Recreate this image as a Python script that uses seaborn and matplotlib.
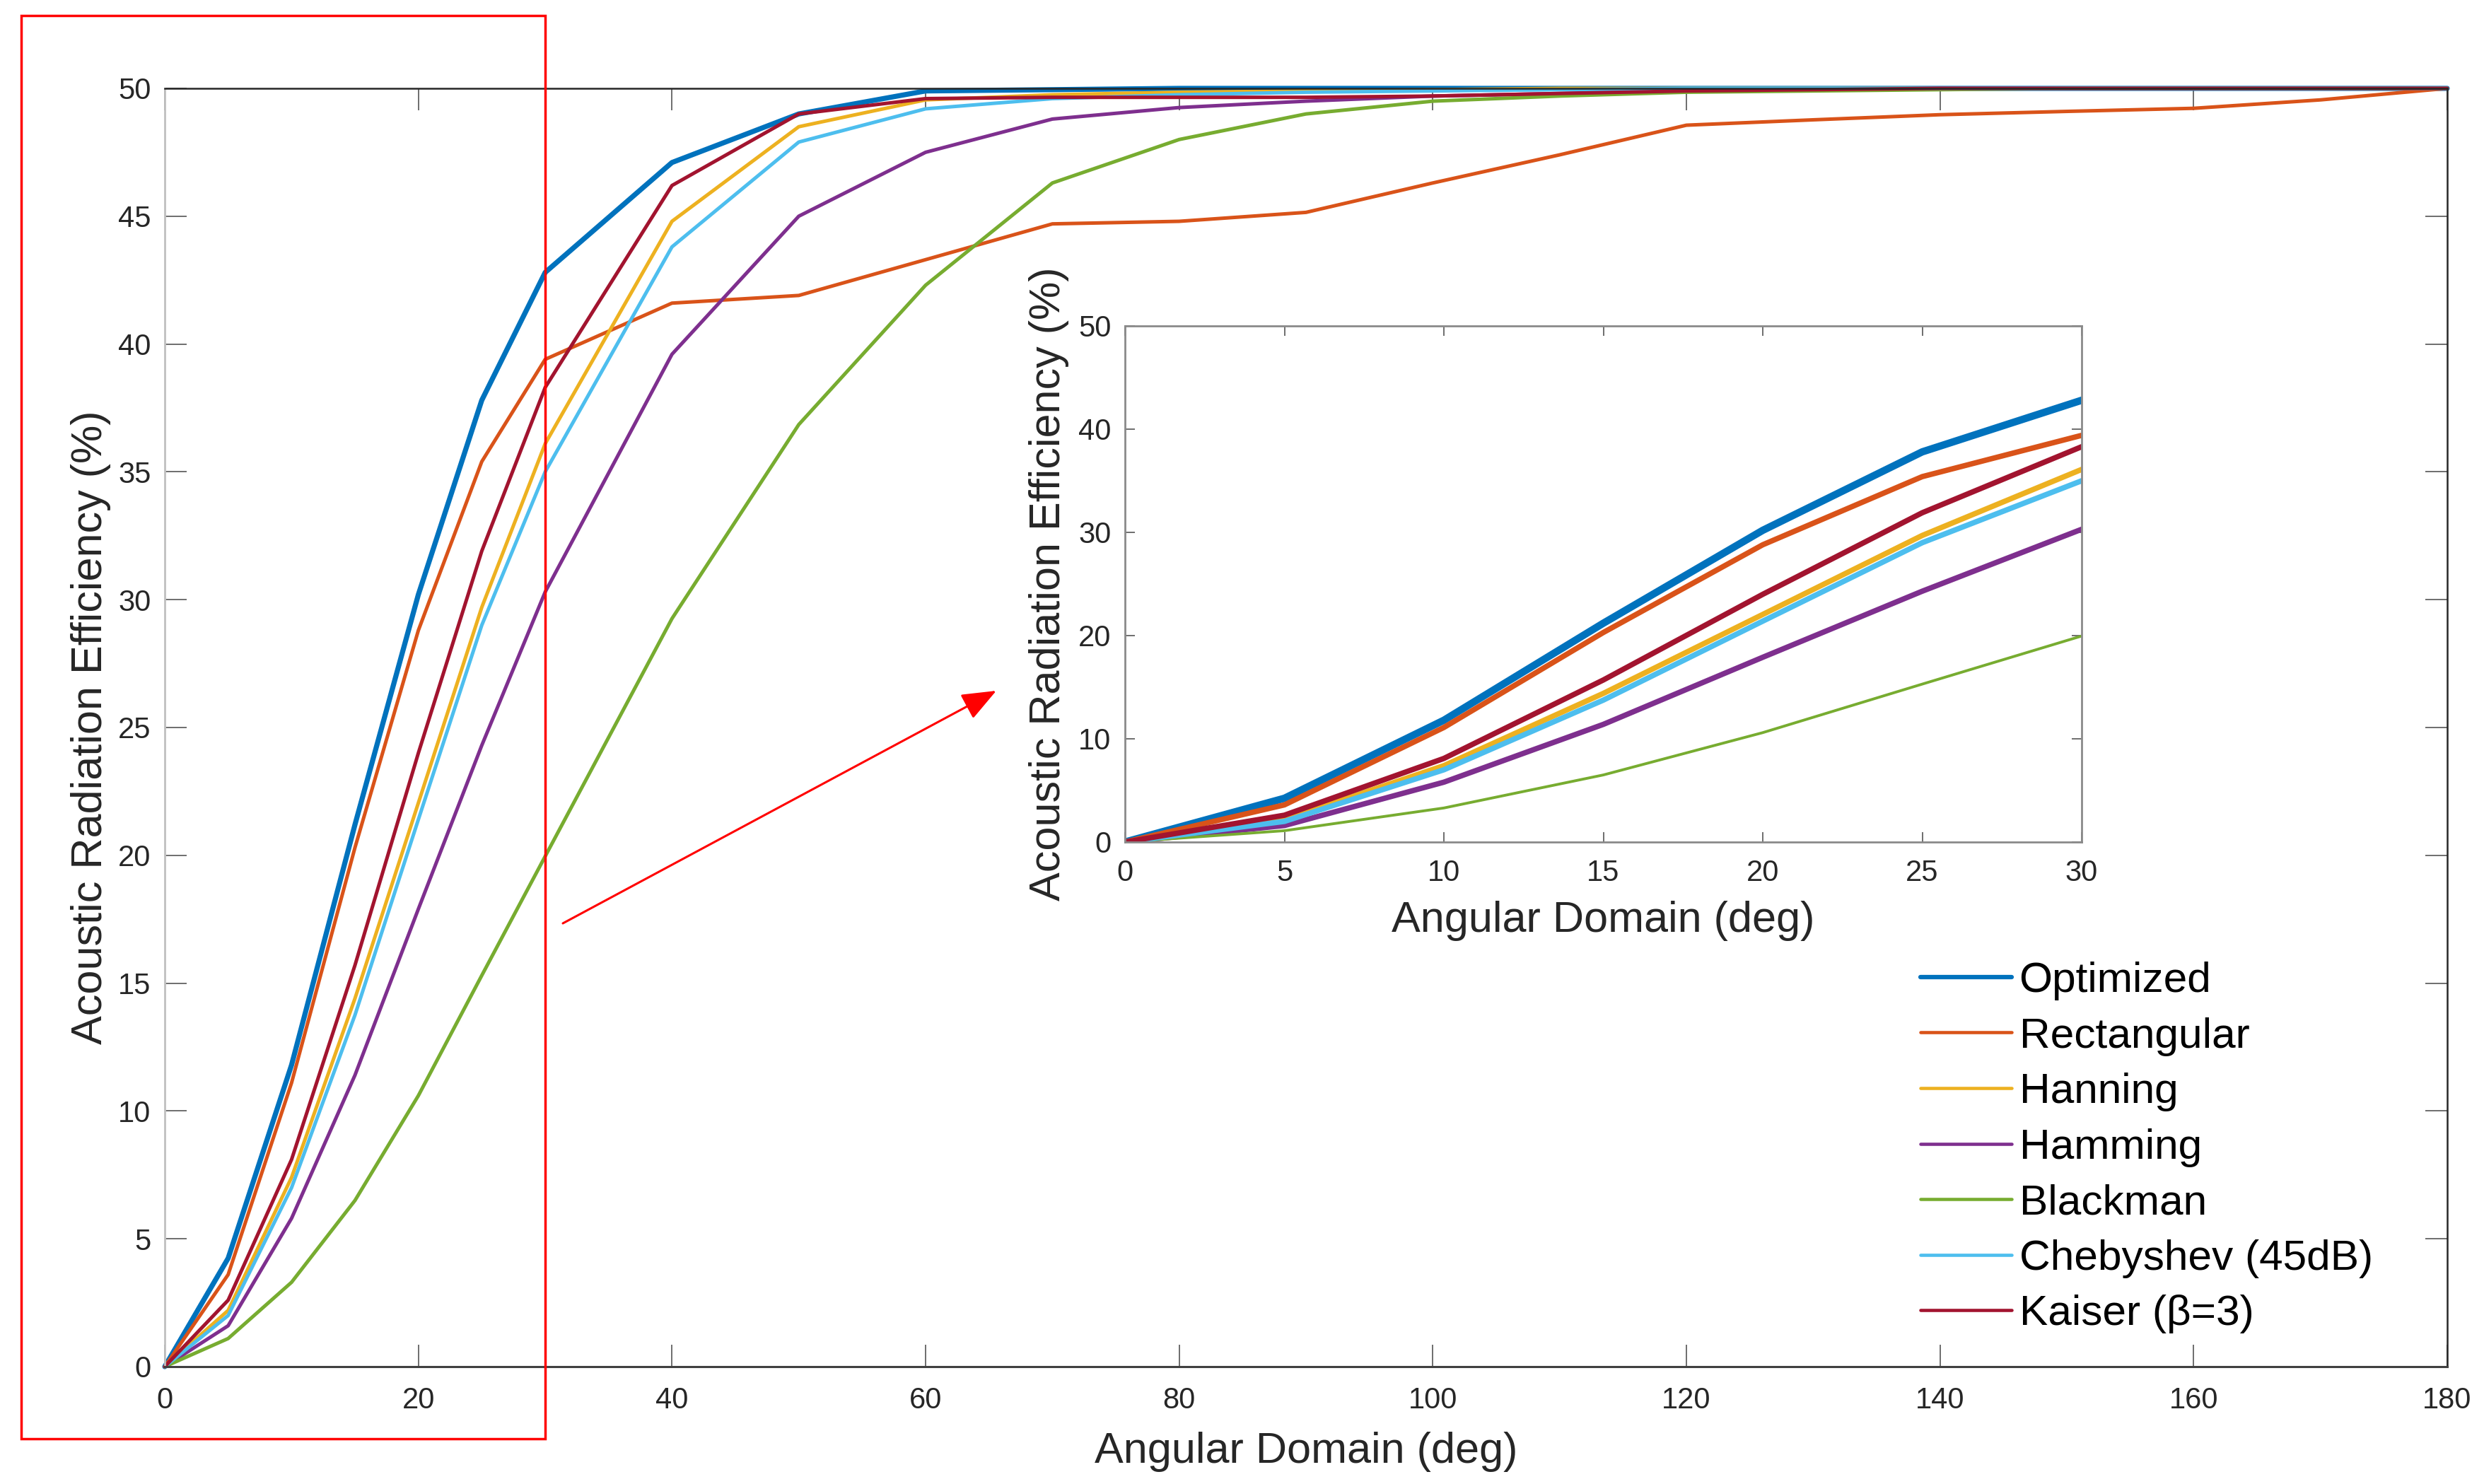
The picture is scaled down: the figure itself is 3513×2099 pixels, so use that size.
import numpy as np
import pandas as pd
import matplotlib
matplotlib.use("Agg")
import matplotlib.pyplot as plt
import seaborn as sns
from matplotlib.patches import Rectangle, FancyArrowPatch

# ---------------- data ----------------
angle = [0, 5, 10, 15, 20, 25, 30, 40, 50, 60, 70, 80, 90, 100, 110, 120, 130, 140, 150, 160, 170, 180]

optimized = [0, 4.24, 11.8, 21.2, 30.2, 37.8, 42.8, 47.1, 49.0, 49.9, 49.95, 50, 50, 50, 50, 50, 50, 50, 50, 50, 50, 50]
rectangular = [0, 3.6, 11.1, 20.3, 28.8, 35.4, 39.4, 41.6, 41.9, 43.3, 44.7, 44.8, 45.15, 46.3, 47.4, 48.56, 48.77, 48.97, 49.1, 49.22, 49.55, 50.0]
hanning = [0, 2.2, 7.4, 14.4, 22.05, 29.7, 36.1, 44.8, 48.5, 49.55, 49.75, 49.85, 49.9, 49.95, 50, 50, 50, 50, 50, 50, 50, 50]
hamming = [0, 1.6, 5.8, 11.4, 17.9, 24.3, 30.3, 39.6, 45.0, 47.5, 48.8, 49.25, 49.5, 49.7, 49.8, 49.9, 49.95, 50, 50, 50, 50, 50]
blackman = [0, 1.1, 3.3, 6.5, 10.6, 15.3, 19.96, 29.26, 36.85, 42.3, 46.3, 48.0, 49.0, 49.5, 49.7, 49.85, 49.9, 49.95, 50, 50, 50, 50]
chebyshev = [0, 2.0, 7.0, 13.75, 21.4, 29.0, 35.0, 43.8, 47.9, 49.2, 49.6, 49.75, 49.85, 49.9, 49.95, 50, 50, 50, 50, 50, 50, 50]
kaiser = [0, 2.6, 8.1, 15.7, 24.0, 31.9, 38.3, 46.2, 49.0, 49.6, 49.65, 49.65, 49.65, 49.7, 49.8, 49.9, 49.95, 50, 50, 50, 50, 50]

series_names = ["Optimized", "Rectangular", "Hanning", "Hamming", "Blackman",
                "Chebyshev (45dB)", "Kaiser (β=3)"]
series_values = [optimized, rectangular, hanning, hamming, blackman, chebyshev, kaiser]
series_colors = ["#0072BD", "#D95319", "#EDB120", "#7E2F8E", "#77AC30", "#4DBEEE", "#A2142F"]

main_xticks = [0, 20, 40, 60, 80, 100, 120, 140, 160, 180]
main_yticks = [0, 5, 10, 15, 20, 25, 30, 35, 40, 45, 50]
inset_xticks = [0, 5, 10, 15, 20, 25, 30]
inset_yticks = [0, 10, 20, 30, 40, 50]

xlabel = "Angular Domain (deg)"
ylabel = "Acoustic Radiation Efficiency (%)"

df = pd.DataFrame({
    "angle": angle * len(series_names),
    "eff": [v for vals in series_values for v in vals],
    "window": [n for n in series_names for _ in angle],
})

# ---------------- style ----------------
sns.set_theme(style="ticks")
plt.rcParams["font.family"] = ["Liberation Sans", "DejaVu Sans"]
TXT = "#262626"

W, H = 3513, 2099
fig = plt.figure(figsize=(W / 100, H / 100), dpi=100)
fig.patch.set_facecolor("white")

def fx(px):
    return px / W

def fy(py):
    return 1 - py / H

ax = fig.add_axes([fx(233), fy(1933), (3461 - 233) / W, (1933 - 125) / H])
axin = fig.add_axes([fx(1591), fy(1191), (2944 - 1591) / W, (1191 - 461) / H])

main_lw = {"Optimized": 5.2}
inset_lw = {"Optimized": 7.5, "Blackman": 2.8}

for name, col in zip(series_names, series_colors):
    sub = df[df["window"] == name]
    sns.lineplot(data=sub, x="angle", y="eff", color=col, ax=ax,
                 linewidth=main_lw.get(name, 3.6), label=name,
                 errorbar=None, clip_on=False, legend=False)
    sns.lineplot(data=sub, x="angle", y="eff", color=col, ax=axin,
                 linewidth=inset_lw.get(name, 5.5),
                 errorbar=None, legend=False)

# main axes formatting
ax.set_xlim(0, 180)
ax.set_ylim(0, 50)
ax.set_xticks(main_xticks)
ax.set_yticks(main_yticks)
ax.set_xlabel(xlabel, fontsize=44, color=TXT)
ax.set_ylabel(ylabel, fontsize=44, color=TXT)
ax.xaxis.set_label_coords(0.5, -0.051)
ax.yaxis.set_label_coords(-0.0235, 0.5)
ax.tick_params(axis="both", which="both", direction="in", top=True, right=True,
               length=22, width=1.2, colors="#555555", labelcolor=TXT, labelsize=30)
ax.tick_params(axis="x", pad=20)
ax.tick_params(axis="y", pad=14)
for side in ["top", "right"]:
    ax.spines[side].set_visible(True)
    ax.spines[side].set_color("#262626")
    ax.spines[side].set_linewidth(1.8)
ax.spines["bottom"].set_color("#404040")
ax.spines["bottom"].set_linewidth(2.2)
ax.spines["left"].set_color("#c0c0c0")
ax.spines["left"].set_linewidth(2.0)
ax.set_facecolor("white")

# inset formatting
axin.set_xlim(0, 30)
axin.set_ylim(0, 50)
axin.set_xticks(inset_xticks)
axin.set_yticks(inset_yticks)
axin.set_xlabel(xlabel, fontsize=44, color=TXT)
axin.set_ylabel(ylabel, fontsize=44, color=TXT)
axin.xaxis.set_label_coords(0.5, -0.114)
axin.yaxis.set_label_coords(-0.0584, 0.5)
axin.tick_params(axis="both", which="both", direction="in", top=True, right=True,
                 length=10, width=1.2, colors="#555555", labelcolor=TXT, labelsize=30)
axin.tick_params(axis="x", pad=17)
axin.tick_params(axis="y", pad=14)
for side in ["top", "right", "bottom", "left"]:
    axin.spines[side].set_visible(True)
    axin.spines[side].set_color("#8a8a8a")
    axin.spines[side].set_linewidth(2.0)
axin.set_facecolor("white")

# legend
handles, labels = ax.get_legend_handles_labels()
leg = ax.legend(handles, labels, loc="upper left",
                bbox_to_anchor=(fx(2716), fy(1360)), bbox_transform=fig.transFigure,
                frameon=False, fontsize=43.5, handlelength=2.13, handletextpad=0.18,
                labelspacing=0.39, borderpad=0, borderaxespad=0)
for t in leg.get_texts():
    t.set_color("black")
for ln, name in zip(leg.get_lines(), labels):
    ln.set_linewidth(4.5 if name == "Optimized" else 3.3)

# red highlight rectangle and arrow (figure annotations)
rect = Rectangle((fx(30), fy(2035)), (771 - 30) / W, (2035 - 22) / H,
                 transform=fig.transFigure, fill=False, edgecolor="red", linewidth=2.5)
fig.add_artist(rect)
arrow = FancyArrowPatch(posA=(fx(796), fy(1306)), posB=(fx(1409), fy(977)),
                        transform=fig.transFigure,
                        arrowstyle="-|>,head_length=1.5,head_width=0.6",
                        mutation_scale=20, color="red", linewidth=2.2,
                        shrinkA=0, shrinkB=0)
fig.add_artist(arrow)

fig.savefig("out.png", dpi=100, facecolor="white")
